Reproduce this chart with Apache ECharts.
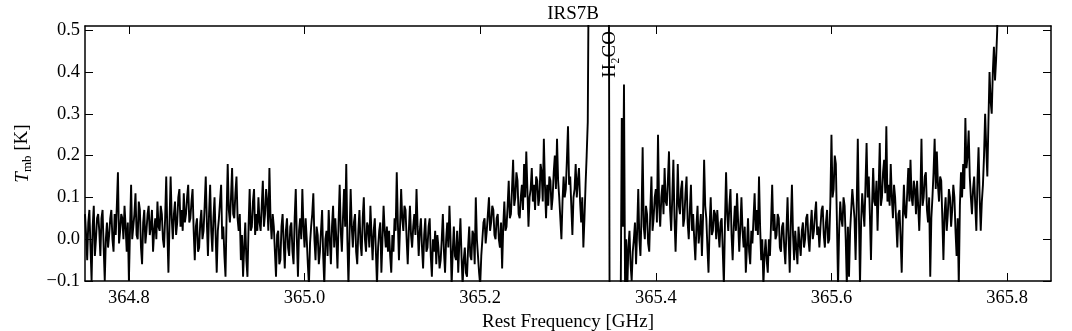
<!DOCTYPE html>
<html>
<head>
<meta charset="utf-8">
<script src="https://cdn.jsdelivr.net/npm/echarts@6/dist/echarts.min.js"></script>
<style>
  html, body { margin: 0; padding: 0; background: #fff; }
  #chart { width: 1072px; height: 331px; }
</style>
</head>
<body>
<div id="chart"></div>
<script>
// channel grid of the spectrum
var freqStart = 364.75;
var chanWidth = 0.00125;

// T_mb [K] per channel (20 channels per row)
var tmb = [
  0.06, 0.01, -0.05, 0.04, 0.07, -0.02, -0.1, 0.03, 0.08, -0.04, 0.0, 0.05, 0.06, 0.02, -0.04, 0.05, 0.07, -0.02, -0.1, 0.0,
  0.04, -0.02, 0.01, 0.05, 0.07, 0.0, -0.03, 0.06, 0.01, 0.08, 0.16, -0.01, 0.02, 0.06, 0.05, 0.0, 0.08, 0.03, -0.03, 0.04,
  -0.1, 0.02, 0.13, 0.0, 0.03, 0.06, 0.11, 0.01, 0.0, 0.09, 0.07, -0.02, -0.06, 0.04, 0.07, -0.01, 0.02, 0.06, 0.08, 0.01,
  0.03, 0.07, -0.03, 0.02, 0.05, 0.0, 0.09, 0.03, 0.02, 0.08, 0.06, 0.0, -0.02, 0.05, 0.15, 0.02, -0.08, 0.04, 0.15, 0.05,
  0.0, 0.06, 0.09, 0.01, 0.04, 0.1, 0.12, 0.03, 0.07, 0.02, 0.11, 0.04, 0.06, 0.1, 0.13, 0.04, 0.05, 0.09, 0.12, 0.02,
  -0.05, 0.03, 0.05, -0.03, -0.02, 0.04, 0.07, 0.0, 0.02, 0.08, 0.15, 0.04, -0.04, 0.06, 0.13, 0.02, -0.03, 0.05, 0.1, 0.01,
  -0.08, 0.02, 0.05, 0.09, 0.13, 0.0, 0.03, -0.04, -0.09, 0.06, 0.18, 0.07, 0.04, 0.1, 0.17, 0.06, 0.05, 0.11, 0.15, 0.05,
  0.02, 0.06, -0.05, 0.01, -0.09, -0.02, 0.04, -0.05, -0.09, 0.03, 0.12, 0.02, 0.03, 0.09, 0.12, 0.01, 0.06, 0.02, 0.1, 0.04,
  0.02, 0.08, 0.14, 0.03, 0.06, 0.12, 0.09, 0.02, 0.17, 0.05, 0.0, 0.06, 0.03, -0.03, -0.09, 0.01, 0.02, -0.06, -0.05, 0.03,
  0.06, -0.01, -0.07, 0.02, 0.05, -0.02, -0.04, 0.03, 0.04, -0.03, -0.06, 0.05, 0.12, 0.0, -0.09, 0.02, 0.05, 0.0, 0.12, 0.03,
  -0.02, 0.05, 0.0, -0.06, -0.11, -0.01, 0.03, 0.06, 0.11, 0.0, -0.05, 0.03, 0.01, -0.06, -0.03, 0.02, 0.07, -0.04, -0.11, 0.0,
  0.02, -0.04, 0.07, 0.0, -0.06, 0.03, 0.08, -0.02, 0.05, 0.0, -0.07, 0.04, 0.13, 0.02, -0.03, 0.05, 0.12, 0.03, 0.18, 0.0,
  -0.11, 0.01, 0.12, 0.03, -0.02, 0.04, 0.06, -0.03, -0.06, 0.02, 0.07, -0.01, -0.04, 0.05, 0.1, 0.0, -0.03, 0.04, 0.03, -0.02,
  0.08, 0.01, -0.05, 0.02, 0.05, -0.03, -0.11, -0.02, 0.02, 0.04, -0.08, 0.0, 0.08, 0.02, -0.02, 0.03, -0.03, 0.02, -0.04, -0.08,
  0.01, -0.03, 0.05, 0.02, 0.16, 0.04, -0.05, 0.03, 0.12, 0.05, 0.02, 0.08, 0.07, 0.0, -0.06, 0.02, 0.08, 0.01, -0.02, 0.03,
  0.06, 0.01, 0.12, 0.03, -0.04, 0.02, 0.05, -0.02, -0.07, 0.01, 0.05, -0.03, -0.02, 0.03, 0.05, -0.04, -0.09, 0.0, -0.03, 0.02,
  -0.06, 0.01, -0.02, -0.07, -0.05, 0.0, 0.06, -0.03, -0.08, 0.0, 0.04, -0.02, 0.08, 0.0, -0.11, -0.03, 0.03, -0.04, -0.05, 0.02,
  -0.08, -0.01, 0.05, -0.04, -0.11, -0.05, -0.02, -0.08, -0.09, -0.02, 0.03, -0.04, -0.05, 0.02, 0.01, -0.06, 0.1, 0.0, -0.04, -0.08,
  -0.11, -0.04, 0.0, 0.04, 0.05, -0.01, 0.02, 0.06, 0.1, 0.02, 0.04, 0.08, 0.07, 0.01, 0.0, 0.05, 0.06, 0.0, -0.02, 0.04,
  -0.07, 0.03, 0.09, 0.02, 0.03, 0.08, 0.14, 0.05, 0.06, 0.12, 0.19, 0.08, 0.1, 0.16, 0.14, 0.06, 0.05, 0.1, 0.13, 0.07,
  0.18, 0.1, 0.21, 0.12, 0.03, 0.1, 0.12, 0.17, 0.09, 0.13, 0.07, 0.15, 0.14, 0.08, 0.1, 0.18, 0.16, 0.09, 0.24, 0.13,
  0.05, 0.13, 0.08, 0.15, 0.14, 0.07, 0.1, 0.16, 0.2, 0.12, 0.24, 0.14, 0.1, 0.05, 0.0, 0.09, 0.15, 0.1, 0.12, 0.19,
  0.27, 0.13, 0.15, 0.08, 0.01, 0.1, 0.12, 0.18, 0.1, 0.14, 0.17, 0.09, 0.04, 0.1, -0.02, 0.05, 0.13, 0.2, 0.28, 0.7,
  1.0, 1.3, 1.5, 1.7, 1.8, 1.9, 2.0, 2.05, 2.1, 2.1, 2.0, 1.95, 1.8, 1.6, 1.4, 1.2, 1.0, 0.9, -0.3, -0.28,
  -0.25, -0.3, -0.3, -0.28, -0.28, -0.25, -0.2, -0.2, -0.15, 0.29, 0.03, 0.37, -0.12, 0.0, -0.12, -0.02, 0.02, -0.06, -0.1, -0.03,
  0.0, 0.04, -0.06, 0.02, 0.12, 0.0, -0.04, 0.06, 0.22, 0.03, 0.0, 0.08, 0.06, -0.01, -0.03, 0.07, 0.15, 0.02, 0.05, 0.1,
  0.12, 0.04, 0.25, 0.08, 0.03, 0.1, 0.13, 0.06, 0.17, 0.09, 0.08, 0.14, 0.21, 0.07, 0.02, 0.1, 0.19, 0.05, -0.03, 0.06,
  0.18, 0.08, 0.06, 0.12, 0.14, 0.03, 0.05, 0.11, 0.15, 0.04, 0.0, 0.07, 0.13, 0.02, 0.06, 0.0, -0.05, 0.03, 0.08, -0.01,
  0.02, 0.06, -0.04, 0.05, 0.19, 0.08, 0.05, -0.02, -0.08, 0.03, 0.1, 0.01, 0.02, 0.07, 0.06, 0.0, 0.07, 0.02, -0.02, 0.04,
  0.05, -0.03, -0.11, 0.04, 0.16, 0.06, 0.02, 0.08, 0.12, 0.01, -0.05, 0.03, 0.08, 0.02, 0.11, 0.04, -0.03, 0.03, 0.1, 0.02,
  -0.02, 0.03, -0.08, -0.02, 0.05, -0.03, -0.06, 0.02, -0.01, 0.05, 0.11, 0.02, 0.07, 0.01, 0.15, 0.03, -0.05, 0.0, -0.11, -0.04,
  0.0, -0.05, -0.08, 0.0, -0.04, 0.04, 0.13, 0.02, 0.06, 0.0, 0.01, 0.06, 0.05, -0.02, -0.03, 0.03, 0.04, -0.02, -0.06, 0.02,
  0.1, 0.0, -0.08, 0.04, 0.13, 0.01, -0.05, 0.02, -0.02, -0.06, 0.03, -0.01, -0.04, 0.02, 0.04, -0.02, 0.0, 0.05, 0.06, 0.0,
  -0.03, 0.03, 0.07, 0.0, 0.02, 0.06, 0.09, 0.01, 0.03, -0.02, 0.03, 0.07, 0.08, 0.01, -0.02, 0.04, 0.07, -0.01, 0.0, 0.09,
  0.25, 0.1, 0.12, 0.2, 0.18, 0.04, -0.11, 0.02, 0.09, 0.05, 0.03, 0.1, 0.08, 0.0, -0.11, 0.03, -0.09, 0.02, 0.07, 0.12,
  0.12, 0.05, -0.05, 0.08, 0.24, 0.06, -0.11, 0.04, 0.11, 0.07, 0.03, 0.13, 0.23, 0.1, 0.15, 0.06, -0.05, 0.08, 0.17, 0.09,
  0.08, 0.14, 0.02, 0.12, 0.23, 0.08, 0.1, 0.16, 0.19, 0.11, 0.27, 0.09, 0.13, 0.08, 0.18, 0.1, 0.05, 0.13, 0.1, 0.04,
  -0.02, 0.06, 0.07, 0.0, -0.08, 0.05, 0.13, 0.06, 0.05, 0.11, 0.17, 0.09, 0.19, 0.1, 0.08, 0.14, 0.12, 0.06, 0.14, 0.08,
  0.02, 0.1, 0.24, 0.08, 0.1, 0.15, 0.16, 0.07, 0.04, 0.1, -0.09, 0.05, 0.1, 0.16, 0.24, 0.12, 0.21, 0.13, 0.09, 0.15,
  0.14, 0.05, -0.05, 0.06, 0.1, 0.02, 0.06, 0.12, 0.1, 0.03, 0.07, 0.13, 0.1, 0.02, -0.04, 0.05, -0.11, 0.08, 0.16, 0.1,
  0.18, 0.12, 0.29, 0.17, 0.2, 0.26, 0.15, 0.1, 0.06, 0.12, 0.15, 0.08, 0.02, 0.14, 0.22, 0.1, 0.02, 0.09, 0.13, 0.2,
  0.3, 0.22, 0.15, 0.28, 0.4, 0.33, 0.3, 0.4, 0.46, 0.38, 0.43, 0.5, 0.62, 0.71, 0.68, 0.83, 0.79, 0.94, 0.9, 1.06,
  1.02, 1.17, 1.12, 1.3, 1.26, 1.41, 1.38, 1.55, 1.49, 1.66, 1.62, 1.8, 1.74, 1.93, 1.88, 2.04, 1.99, 2.18, 2.11, 2.3,
  2.26, 2.42, 2.37, 2.55, 2.5, 2.66, 2.61, 2.78, 2.72, 2.9, 2.84, 3.0, 2.95, 3.1, 3.05, 3.2, 3.14, 3.28, 3.22, 3.35, 3.3
];

var xTicks = [364.8, 365.0, 365.2, 365.4, 365.6, 365.8];
var yTicks = [-0.1, 0.0, 0.1, 0.2, 0.3, 0.4, 0.5];
var lineFreq = 365.3475;
var lineLabel = 'H₂CO';

var serif = '"Liberation Serif", "DejaVu Serif", serif';

var spec = tmb.map(function (v, i) {
    return [+(freqStart + i * chanWidth).toFixed(5), v];
});

function fmt(v) {
    return v.toFixed(1).replace('-', '\u2212');
}

var frame = { show: true, onZero: false, lineStyle: { color: '#000', width: 1.5 } };

var chart = echarts.init(document.getElementById('chart'));
chart.setOption({
    animation: false,
    title: {
        text: 'IRS7B',
        left: 568,
        textAlign: 'center',
        top: 0,
        textStyle: { fontFamily: serif, fontSize: 19, fontWeight: 'normal', color: '#000' }
    },
    grid: { left: 85, right: 21, top: 26, bottom: 50, outerBoundsMode: 'none', containLabel: false },
    xAxis: [
        {
            type: 'value', min: 364.75, max: 365.85, position: 'bottom',
            axisLine: frame,
            axisTick: { inside: true, length: 8, customValues: xTicks, lineStyle: { color: '#000' } },
            axisLabel: { customValues: xTicks, formatter: fmt, margin: 8, color: '#000', fontFamily: serif, fontSize: 18.5 },
            splitLine: { show: false },
            name: 'Rest Frequency [GHz]', nameLocation: 'middle', nameGap: 32,
            nameTextStyle: { fontFamily: serif, fontSize: 19, color: '#000' }
        },
        {
            type: 'value', min: 364.75, max: 365.85, position: 'top',
            axisLine: frame,
            axisTick: { inside: true, length: 8, customValues: xTicks, lineStyle: { color: '#000' } },
            axisLabel: { show: false },
            splitLine: { show: false }
        }
    ],
    yAxis: [
        {
            type: 'value', min: -0.1, max: 0.51, position: 'left',
            axisLine: frame,
            axisTick: { inside: true, length: 8, customValues: yTicks, lineStyle: { color: '#000' } },
            axisLabel: { customValues: yTicks, formatter: fmt, margin: 5, color: '#000', fontFamily: serif, fontSize: 18.5 },
            splitLine: { show: false },
            name: '{it|T}{sub|mb} [K]', nameLocation: 'middle', nameGap: 51,
            nameTextStyle: {
                fontFamily: serif, fontSize: 19, color: '#000',
                rich: {
                    it: { fontFamily: serif, fontSize: 19, fontStyle: 'italic', color: '#000' },
                    sub: { fontFamily: serif, fontSize: 13, color: '#000', padding: [10, 0, 0, 0] }
                }
            }
        },
        {
            type: 'value', min: -0.1, max: 0.51, position: 'right',
            axisLine: frame,
            axisTick: { inside: true, length: 8, customValues: yTicks, lineStyle: { color: '#000' } },
            axisLabel: { show: false },
            splitLine: { show: false }
        }
    ],
    series: [
        {
            type: 'line',
            data: spec,
            xAxisIndex: 0,
            yAxisIndex: 0,
            symbol: 'none',
            clip: true,
            lineStyle: { color: '#000', width: 1.9 }
        }
    ]
});

// line label, placed through the axis scale
var p = chart.convertToPixel({ xAxisIndex: 0, yAxisIndex: 0 }, [lineFreq, 0.442]);
chart.setOption({
    graphic: [{
        type: 'text',
        x: p[0],
        y: p[1],
        rotation: Math.PI / 2,
        style: {
            text: lineLabel,
            fill: '#000',
            font: '19px ' + serif,
            align: 'center',
            verticalAlign: 'middle'
        }
    }]
});
</script>
</body>
</html>
